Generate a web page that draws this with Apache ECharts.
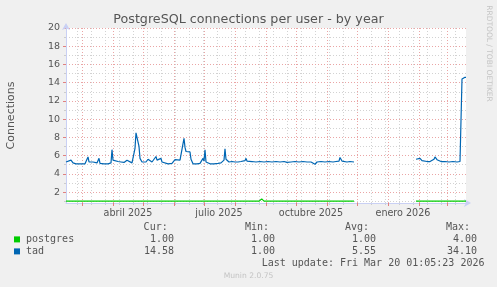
<!DOCTYPE html>
<html>
<head>
<meta charset="utf-8">
<script src="https://cdn.jsdelivr.net/npm/echarts@6/dist/echarts.min.js"></script>
<style>
html,body{margin:0;padding:0;background:#f0f0f0;}
#chart{width:497px;height:287px;}
</style>
</head>
<body>
<div id="chart"></div>
<script>
// ---- data ----
const titleText = 'PostgreSQL connections per user - by year';
const yAxisName = 'Connections';
const seriesNames = ['postgres', 'tad'];
const seriesColors = ['#00cc00', '#0066b3'];

// time axis: 400 days ending at last update
const startTime = '2025-02-13T01:05:23Z';
const rangeDays = 400;

// tad: day offset from start -> connections (null = no data)
const tadDay = [0,2,5,7,10,14,19,21,22,23,25,27,29,31,33,34,38,42,45,46,47,49,52,55,58,61,63,66,68,69,70,71,72,73,74,76,78,80,82,84,86,88,90,91,93,95,96,98,102,106,109,111,114,116,118,119,120,121,122,124,125,127,131,134,136,137,138,139,140,141,144,148,152,155,157,158,159,160,161,163,166,169,172,175,177,179,180,181,183,186,190,194,198,202,206,210,214,218,221,223,225,229,233,237,241,245,247,249,251,255,259,263,267,270,273,274,275,276,278,281,284,288,289,350,352,354,356,358,361,364,366,368,369,371,373,375,379,383,387,391,394,395,396,397,398,399,400];
const tadValue = [5.3,5.25,5.5,5.2,5.1,5.1,5.1,5.2,5.85,5.3,5.35,5.3,5.45,5.2,5.7,5.15,5.1,5.1,5.2,6.65,5.5,5.4,5.35,5.3,5.25,5.5,5.3,5.2,5.15,6.8,8.5,8.4,8.4,7.0,5.7,5.3,5.2,5.3,5.6,5.4,5.3,5.4,5.9,5.5,5.4,5.7,5.3,5.1,5.1,5.15,5.55,5.4,5.5,5.3,7.9,6.9,6.45,6.3,6.4,6.4,5.6,5.1,5.1,5.15,5.3,5.7,5.4,6.65,5.3,5.1,5.1,5.1,5.15,5.2,5.3,5.5,6.75,5.6,5.4,5.3,5.35,5.3,5.3,5.35,5.5,5.45,5.7,5.4,5.3,5.35,5.3,5.35,5.3,5.35,5.3,5.35,5.3,5.35,5.25,5.05,5.3,5.35,5.3,5.35,5.3,5.3,5.25,5.05,5.3,5.35,5.3,5.35,5.3,5.35,5.4,5.8,6.0,5.4,5.3,5.3,5.35,5.3,null,5.6,5.4,5.7,5.45,5.4,5.35,5.35,5.5,5.6,5.85,5.55,5.4,5.35,5.35,5.3,5.35,5.3,5.35,5.3,14.4,14.6,14.5,14.6,14.58];

// postgres
const postgresDay = [0,193,195.7,198,288,289,350,400];
const postgresValue = [1,1,1.25,1,1,null,1,1];

// axes
const yMin = 0.8, yMax = 20;
const yMajorTicks = [2,4,6,8,10,12,14,16,18,20];
const yMinorTicks = [1,3,5,7,9,11,13,15,17,19];
const monthStarts = ['2025-03-01','2025-04-01','2025-05-01','2025-06-01','2025-07-01','2025-08-01','2025-09-01','2025-10-01','2025-11-01','2025-12-01','2026-01-01','2026-02-01','2026-03-01'];
const minorGridAnchor = '2025-02-24'; // Mondays, every 14 days
const xLabelDates = ['2025-04-16','2025-07-16','2025-10-16','2026-01-16'];
const xLabels = ['abril 2025','julio 2025','octubre 2025','enero 2026'];

// legend statistics
const statHeaders = ['Cur:','Min:','Avg:','Max:'];
const postgresStats = ['1.00','1.00','1.00','4.00'];
const tadStats = ['14.58','1.00','5.55','34.10'];
const lastUpdate = 'Last update: Fri Mar 20 01:05:23 2026';
const watermark = 'RRDTOOL / TOBI OETIKER';
const footer = 'Munin 2.0.75';

// ---- build ----
const DAY = 86400000;
const T0 = Date.parse(startTime);
const T1 = T0 + rangeDays * DAY;
const toSeries = (days, vals) => days.map((d, i) => [T0 + d * DAY, vals[i] === null ? '-' : vals[i]]);
const monthTicks = monthStarts.map(s => Date.parse(s + 'T00:00:00Z'));
const minorTicks = [];
for (let t = Date.parse(minorGridAnchor + 'T00:00:00Z'); t < T1; t += 14 * DAY) minorTicks.push(t);
const xLabelValues = xLabelDates.map(s => Date.parse(s + 'T00:00:00Z'));

const FONT = 'DejaVu Sans';
const MONO = 'DejaVu Sans Mono';
const TXT = '#555555';
const AXIS = '#c9d0f4';
const MAJOR = '#eaa5a5';
const MINOR = '#d2d2d2';

const chart = echarts.init(document.getElementById('chart'), null, {renderer: 'canvas'});

const statColsHeader = [167.7, 269, 369, 470];
const statColsValue = [174, 275, 376, 477];
const rowsY = [227.3, 239.4, 251.4];
const graphics = [];
statHeaders.forEach((h, i) => graphics.push({type:'text', x: statColsHeader[i], y: rowsY[0], style:{text:h, font:'10px "' + MONO + '"', fill: TXT, textAlign:'right', textVerticalAlign:'middle'}}));
postgresStats.forEach((v, i) => graphics.push({type:'text', x: statColsValue[i], y: rowsY[1], style:{text:v, font:'10px "' + MONO + '"', fill: TXT, textAlign:'right', textVerticalAlign:'middle'}}));
tadStats.forEach((v, i) => graphics.push({type:'text', x: statColsValue[i], y: rowsY[2], style:{text:v, font:'10px "' + MONO + '"', fill: TXT, textAlign:'right', textVerticalAlign:'middle'}}));
graphics.push({type:'text', x: 261.7, y: 263.4, style:{text:lastUpdate, font:'10px "' + MONO + '"', fill: TXT, textAlign:'left', textVerticalAlign:'middle'}});
graphics.push({type:'text', x: 248.5, y: 276, style:{text:footer, font:'7.6px "' + FONT + '"', fill:'#c4c4c4', textAlign:'center', textVerticalAlign:'middle'}});
graphics.push({type:'text', x: 488.5, y: 53.5, rotation: -Math.PI/2, style:{text:watermark, font:'7.5px "' + FONT + '"', fill:'#c4c4c4', textAlign:'center', textVerticalAlign:'middle'}});
graphics.push({type:'text', x: 248.5, y: 19.3, style:{text:titleText, font:'12.7px "' + FONT + '"', fill: TXT, textAlign:'center', textVerticalAlign:'middle'}});

const option = {
  animation: false,
  backgroundColor: '#f0f0f0',
  graphic: graphics,
  legend: {
    data: seriesNames,
    orient: 'vertical',
    left: 14, top: 233.4,
    padding: 0,
    itemWidth: 6, itemHeight: 6, itemGap: 0,
    icon: 'rect',
    selectedMode: false,
    textStyle: {fontFamily: MONO, fontSize: 10, color: TXT, lineHeight: 12, padding:[0,0,0,1]}
  },
  grid: {left: 66, top: 28, width: 400, height: 175, show: true, backgroundColor: '#ffffff', borderWidth: 0, containLabel: false, outerBoundsMode: 'none'},
  xAxis: [
    {
      type: 'value', min: T0, max: T1, position: 'bottom', z: 3,
      axisLine: {show: true, lineStyle: {color: AXIS, width: 1}, symbol: ['none', 'arrow'], symbolSize: [6, 7], symbolOffset: [0, 5]},
      axisTick: {show: true, customValues: monthTicks, length: 3, lineStyle: {color: '#e08080'}},
      splitLine: {show: true, lineStyle: {color: MAJOR, type: [1, 2], width: 1}},
      axisLabel: {show: true, customValues: xLabelValues, margin: 5, fontFamily: FONT, fontSize: 9.6, color: TXT,
        formatter: v => { let best = 0; xLabelValues.forEach((t, i) => { if (Math.abs(t - v) < Math.abs(xLabelValues[best] - v)) best = i; }); return xLabels[best]; }}
    },
    {
      type: 'value', min: T0, max: T1, position: 'bottom', z: 2,
      axisLine: {show: false},
      axisTick: {show: true, customValues: minorTicks, length: 2, lineStyle: {color: '#cccccc'}},
      splitLine: {show: true, lineStyle: {color: MINOR, type: [1, 2], width: 1}},
      axisLabel: {show: false}
    }
  ],
  yAxis: [
    {
      type: 'value', min: yMin, max: yMax, position: 'left', z: 3,
      name: yAxisName, nameLocation: 'middle', nameRotate: 90, nameGap: 49,
      nameTextStyle: {fontFamily: FONT, fontSize: 11, color: TXT},
      axisLine: {show: true, lineStyle: {color: AXIS, width: 1}, symbol: ['none', 'arrow'], symbolSize: [6, 7], symbolOffset: [0, 5]},
      axisTick: {show: true, customValues: yMajorTicks, length: 3, lineStyle: {color: '#e08080'}},
      splitLine: {show: true, lineStyle: {color: MAJOR, type: [1, 2], width: 1}},
      axisLabel: {show: true, customValues: yMajorTicks, margin: 6, fontFamily: FONT, fontSize: 9.5, color: TXT}
    },
    {
      type: 'value', min: yMin, max: yMax, position: 'left', z: 2,
      axisLine: {show: false},
      axisTick: {show: true, customValues: yMinorTicks, length: 2, lineStyle: {color: '#cccccc'}},
      splitLine: {show: true, lineStyle: {color: MINOR, type: [1, 2], width: 1}},
      axisLabel: {show: false}
    }
  ],
  series: [
    {name: seriesNames[0], type: 'line', xAxisIndex: 0, yAxisIndex: 0, data: toSeries(postgresDay, postgresValue),
      showSymbol: false, symbol: 'none', lineStyle: {color: seriesColors[0], width: 1.2}, itemStyle: {color: seriesColors[0]}, connectNulls: false, z: 5},
    {name: seriesNames[1], type: 'line', xAxisIndex: 0, yAxisIndex: 0, data: toSeries(tadDay, tadValue),
      showSymbol: false, symbol: 'none', lineStyle: {color: seriesColors[1], width: 1.2}, itemStyle: {color: seriesColors[1]}, connectNulls: false, z: 5}
  ]
};
chart.setOption(option);
</script>
</body>
</html>
